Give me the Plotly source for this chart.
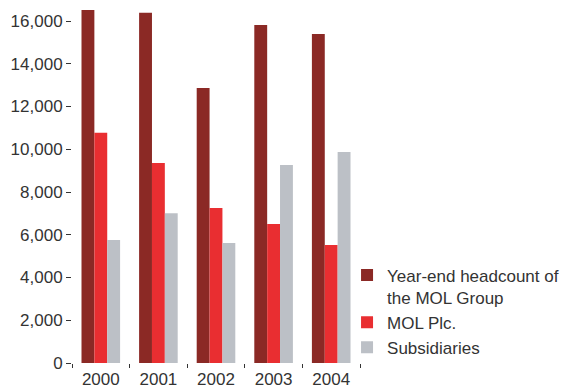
import plotly.graph_objects as go

years = ["2000", "2001", "2002", "2003", "2004"]
group_total = [16514, 16390, 12865, 15813, 15392]
mol_plc = [10775, 9357, 7251, 6503, 5520]
subsidiaries = [5754, 7002, 5614, 9263, 9871]

names = ["Year-end headcount of<br>the MOL Group", "MOL Plc.", "Subsidiaries"]
colors = ["#8B2925", "#E92E31", "#BCC0C6"]

fig = go.Figure()
for name, vals, col in zip(names, [group_total, mol_plc, subsidiaries], colors):
    fig.add_trace(go.Bar(x=years, y=vals, name=name, marker=dict(color=col, line=dict(width=0))))

font = dict(family="Liberation Sans, Arial, sans-serif", size=17, color="#333333")
fig.update_layout(
    width=569, height=390,
    margin=dict(l=72, r=192, t=5, b=27),
    paper_bgcolor="white", plot_bgcolor="white",
    font=font,
    barmode="group", bargap=0.33, bargroupgap=0,
    showlegend=True,
    legend=dict(x=0.955, xanchor="left", y=0.295, yanchor="top",
                font=font, valign="top", tracegroupgap=0,
                bgcolor="rgba(0,0,0,0)"),
    xaxis=dict(range=[-0.5, 4.5], showgrid=False, showline=False, zeroline=False,
               ticks="outside", tickson="boundaries", ticklen=4, tickwidth=1,
               tickcolor="#333333", tickfont=font, ticklabelstandoff=4,
               automargin=False),
    yaxis=dict(range=[0, 16749], tickvals=list(range(0, 16001, 2000)),
               ticktext=["0", "2,000", "4,000", "6,000", "8,000", "10,000", "12,000", "14,000", "16,000"],
               showgrid=False, showline=False, zeroline=False,
               ticks="outside", ticklen=5, tickwidth=1, tickcolor="#333333",
               tickfont=font, automargin=False),
)
fig.write_html("out.html")
